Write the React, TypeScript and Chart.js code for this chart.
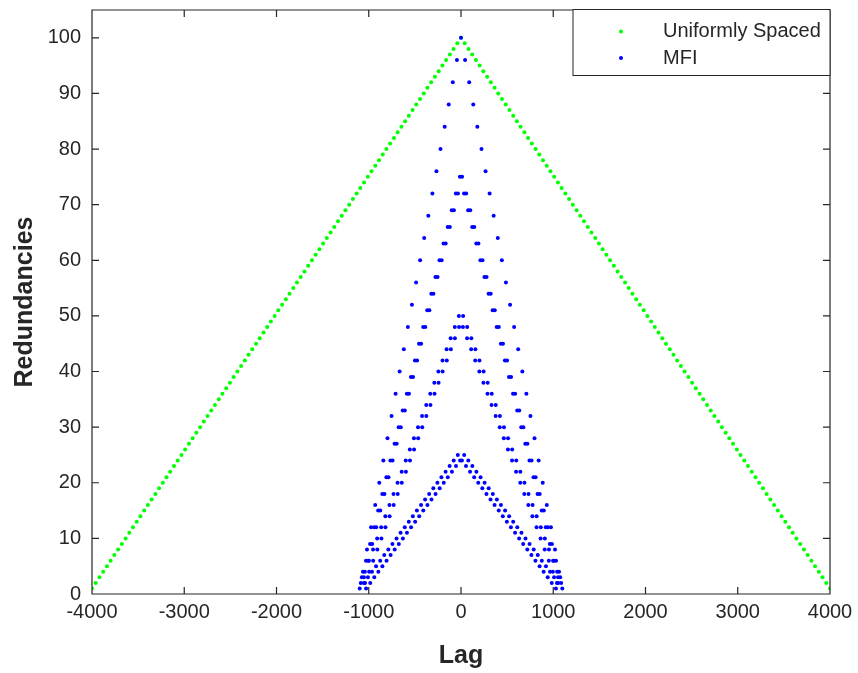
import React, { useEffect, useRef } from 'react';
import { Chart, registerables } from 'chart.js';

Chart.register(...registerables);

// ---- Data (the lag function is symmetric, negative lags mirror the positive ones) ----
const uniformLags = [
  0, 40, 81, 121, 162, 202, 242, 283, 323, 364, 404, 444, 485, 525, 566, 606, 646, 687, 727, 768,
  808, 848, 889, 929, 970, 1010, 1051, 1091, 1131, 1172, 1212, 1253, 1293, 1333, 1374, 1414, 1455, 1495, 1535, 1576,
  1616, 1657, 1697, 1737, 1778, 1818, 1859, 1899, 1939, 1980, 2020, 2061, 2101, 2141, 2182, 2222, 2263, 2303, 2343, 2384,
  2424, 2465, 2505, 2545, 2586, 2626, 2667, 2707, 2747, 2788, 2828, 2869, 2909, 2949, 2990, 3030, 3071, 3111, 3152, 3192,
  3232, 3273, 3313, 3354, 3394, 3434, 3475, 3515, 3556, 3596, 3636, 3677, 3717, 3758, 3798, 3838, 3879, 3919, 3960, 4000,
];
const uniformCounts = [
  100, 99, 98, 97, 96, 95, 94, 93, 92, 91, 90, 89, 88, 87, 86, 85, 84, 83, 82, 81,
  80, 79, 78, 77, 76, 75, 74, 73, 72, 71, 70, 69, 68, 67, 66, 65, 64, 63, 62, 61,
  60, 59, 58, 57, 56, 55, 54, 53, 52, 51, 50, 49, 48, 47, 46, 45, 44, 43, 42, 41,
  40, 39, 38, 37, 36, 35, 34, 33, 32, 31, 30, 29, 28, 27, 26, 25, 24, 23, 22, 21,
  20, 19, 18, 17, 16, 15, 14, 13, 12, 11, 10, 9, 8, 7, 6, 5, 4, 3, 2, 1,
];

// MFI: outer triangle (peak 100)
const mfiLagsA = [0, 44, 89, 133, 177, 222, 266, 310, 354, 399, 443, 487, 532, 576, 620, 665, 709, 753, 797, 842, 886, 930, 975, 1019, 1063];
const mfiCountsA = [100, 96, 92, 88, 84, 80, 76, 72, 68, 64, 60, 56, 52, 48, 44, 40, 36, 32, 28, 24, 20, 16, 12, 8, 4];

// MFI: second triangle (peak 75)
const mfiLagsB = [
  11.5, 33, 56, 77, 100, 121, 144, 166, 189, 210, 233, 254, 277, 299, 322, 343, 366, 387, 410, 432, 455,
  476, 499, 520, 543, 564, 587, 609, 632, 653, 676, 697, 720, 742, 765, 786, 809, 830, 853, 875, 898,
  919, 942, 963, 986, 1007, 1030, 1052, 1075,
];
const mfiCountsB = [
  75, 72, 72, 69, 69, 66, 66, 63, 63, 60, 60, 57, 57, 54, 54, 51, 51, 48, 48, 45, 45,
  42, 42, 39, 39, 36, 36, 33, 33, 30, 30, 27, 27, 24, 24, 21, 21, 18, 18, 15, 15,
  12, 12, 9, 9, 6, 6, 3, 3,
];

// MFI: third triangle (peak 50)
const mfiLagsC = [
  23, 21, 67, 66, 112, 110, 156, 154, 200, 199, 245, 243, 289, 287, 333, 331, 377, 376, 422, 420, 466,
  464, 510, 509, 555, 553, 599, 597, 643, 642, 688, 686, 732, 730, 776, 774, 820, 819, 865, 863, 909,
  907, 953, 952, 998, 996, 1042, 1040, 1086,
];
const mfiCountsC = [
  50, 48, 48, 46, 46, 44, 44, 42, 42, 40, 40, 38, 38, 36, 36, 34, 34, 32, 32, 30, 30,
  28, 28, 26, 26, 24, 24, 22, 22, 20, 20, 18, 18, 16, 16, 14, 14, 12, 12, 10, 10,
  8, 8, 6, 6, 4, 4, 2, 2,
];

// MFI: inner triangle (peak 25)
const mfiLagsD = [
  34.5, 10, 79, 54, 123, 98, 167, 143, 212, 187, 256, 231, 300, 276, 345, 320, 389, 364, 433, 409, 478,
  453, 522, 497, 566, 541, 610, 586, 655, 630, 699, 674, 743, 719, 788, 763, 832, 807, 876, 852, 921,
  896, 965, 940, 1009, 984, 1053, 1029, 1098,
];
const mfiCountsD = [
  25, 24, 24, 23, 23, 22, 22, 21, 21, 20, 20, 19, 19, 18, 18, 17, 17, 16, 16, 15, 15,
  14, 14, 13, 13, 12, 12, 11, 11, 10, 10, 9, 9, 8, 8, 7, 7, 6, 6, 5, 5,
  4, 4, 3, 3, 2, 2, 1, 1,
];

const xTicks = [-4000, -3000, -2000, -1000, 0, 1000, 2000, 3000, 4000];
const yTicks = [0, 10, 20, 30, 40, 50, 60, 70, 80, 90, 100];
const seriesNames = ['Uniformly Spaced', 'MFI'];

const FONT = "'Liberation Sans', Arial, Helvetica, sans-serif";
const AXIS_COLOR = '#262626';
const GREEN = '#00ff00';
const BLUE = '#0000ff';

function symmetricPoints(lags: number[], counts: number[]) {
  const pts: { x: number; y: number }[] = [];
  for (let i = 0; i < lags.length; i++) {
    pts.push({ x: lags[i], y: counts[i] });
    if (lags[i] !== 0) pts.push({ x: -lags[i], y: counts[i] });
  }
  return pts;
}

const framePlugin = {
  id: 'matlabFrame',
  afterDatasetsDraw(chart: any) {
    const { ctx, chartArea, scales } = chart;
    const { left, right, top, bottom } = chartArea;
    const xs = scales.x;
    const ys = scales.y;
    ctx.save();
    ctx.strokeStyle = AXIS_COLOR;
    ctx.lineWidth = 1.2;
    ctx.beginPath();
    ctx.rect(left, top, right - left, bottom - top);
    const tl = 7;
    xTicks.forEach((v) => {
      const px = xs.getPixelForValue(v);
      ctx.moveTo(px, bottom);
      ctx.lineTo(px, bottom - tl);
      ctx.moveTo(px, top);
      ctx.lineTo(px, top + tl);
    });
    yTicks.forEach((v) => {
      const py = ys.getPixelForValue(v);
      ctx.moveTo(left, py);
      ctx.lineTo(left + tl, py);
      ctx.moveTo(right, py);
      ctx.lineTo(right - tl, py);
    });
    ctx.stroke();

    // legend box (inside the axes, top-right)
    const bw = 257;
    const bh = 66;
    const bx = right - bw;
    const by = top - 0.5;
    ctx.fillStyle = '#ffffff';
    ctx.fillRect(bx, by, bw, bh);
    ctx.lineWidth = 1;
    ctx.strokeStyle = AXIS_COLOR;
    ctx.strokeRect(bx, by, bw, bh);
    const colors = [GREEN, BLUE];
    const rows = [22, 48.5];
    ctx.font = `20px ${FONT}`;
    ctx.textBaseline = 'middle';
    ctx.textAlign = 'left';
    seriesNames.forEach((name, i) => {
      ctx.fillStyle = colors[i];
      ctx.beginPath();
      ctx.arc(bx + 48, by + rows[i], 2, 0, Math.PI * 2);
      ctx.fill();
      ctx.fillStyle = AXIS_COLOR;
      ctx.fillText(name, bx + 90, by + rows[i]);
    });
    ctx.restore();
  },
};

export default function App() {
  const canvasRef = useRef<HTMLCanvasElement | null>(null);

  useEffect(() => {
    document.body.style.margin = '0';
    const canvas = canvasRef.current;
    if (!canvas) return;
    const chart = new Chart(canvas, {
      type: 'scatter',
      data: {
        datasets: [
          {
            label: seriesNames[0],
            data: symmetricPoints(uniformLags, uniformCounts),
            backgroundColor: GREEN,
            borderWidth: 0,
            pointRadius: 2,
            pointHoverRadius: 2,
            showLine: false,
            order: 2,
          },
          {
            label: seriesNames[1],
            data: [
              ...symmetricPoints(mfiLagsA, mfiCountsA),
              ...symmetricPoints(mfiLagsB, mfiCountsB),
              ...symmetricPoints(mfiLagsC, mfiCountsC),
              ...symmetricPoints(mfiLagsD, mfiCountsD),
            ],
            backgroundColor: BLUE,
            borderWidth: 0,
            pointRadius: 2,
            pointHoverRadius: 2,
            showLine: false,
            order: 1,
          },
        ],
      },
      options: {
        responsive: false,
        animation: false,
        events: [],
        layout: { padding: { left: 0, top: 10, right: 28, bottom: 0 } },
        plugins: {
          legend: { display: false },
          tooltip: { enabled: false },
        },
        scales: {
          x: {
            type: 'linear',
            min: -4000,
            max: 4000,
            afterFit: (s: any) => {
              s.height = 79;
              s.paddingLeft = 0;
              s.paddingRight = 0;
            },
            grid: { display: false, drawTicks: false },
            border: { display: false },
            afterBuildTicks: (s: any) => {
              s.ticks = xTicks.map((v) => ({ value: v }));
            },
            ticks: {
              autoSkip: false,
              maxRotation: 0,
              padding: 6,
              color: AXIS_COLOR,
              font: { family: FONT, size: 20 },
              callback: (v: any) => String(v),
            },
            title: {
              display: true,
              text: 'Lag',
              color: AXIS_COLOR,
              font: { family: FONT, size: 25, weight: 'bold' },
              padding: { top: 0, bottom: 2 },
            },
          },
          y: {
            type: 'linear',
            min: 0,
            max: 105,
            afterFit: (s: any) => {
              s.width = 92;
              s.paddingTop = 0;
              s.paddingBottom = 0;
            },
            grid: { display: false, drawTicks: false },
            border: { display: false },
            afterBuildTicks: (s: any) => {
              s.ticks = yTicks.map((v) => ({ value: v }));
            },
            ticks: {
              autoSkip: false,
              padding: 11,
              color: AXIS_COLOR,
              font: { family: FONT, size: 20 },
              callback: (v: any) => String(v),
            },
            title: {
              display: true,
              text: 'Redundancies',
              color: AXIS_COLOR,
              font: { family: FONT, size: 25, weight: 'bold' },
              padding: { top: 10, bottom: 0 },
            },
          },
        },
      },
      plugins: [framePlugin],
    } as any);
    return () => chart.destroy();
  }, []);

  return (
    <div style={{ position: 'absolute', left: 0, top: 0, width: 858, height: 673, background: '#ffffff' }}>
      <canvas ref={canvasRef} width={858} height={673} style={{ display: 'block' }} />
    </div>
  );
}
